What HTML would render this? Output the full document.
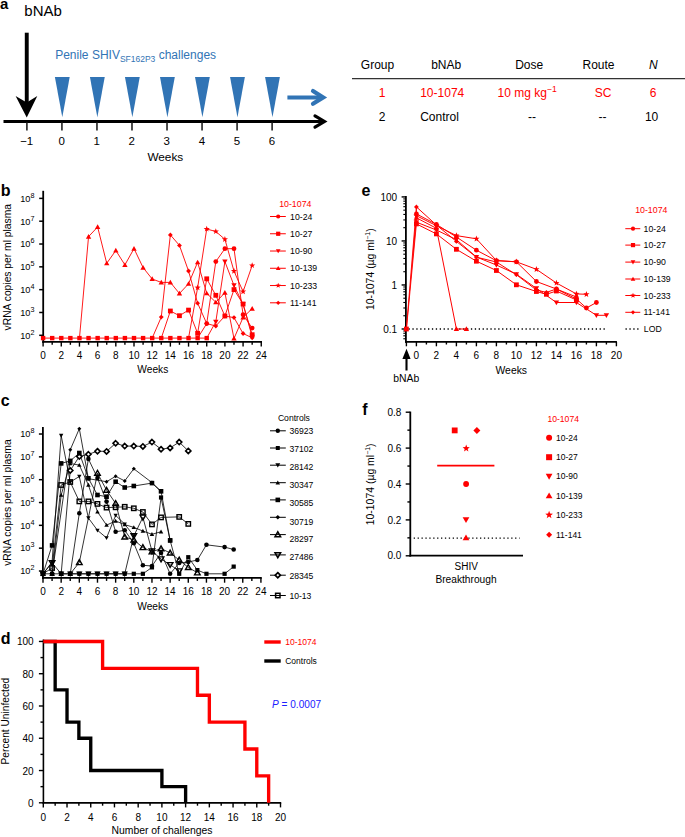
<!DOCTYPE html>
<html><head><meta charset="utf-8"><style>
html,body{margin:0;padding:0;background:#fff;}
svg{display:block;}
text{font-family:"Liberation Sans",sans-serif;}
</style></head><body>
<svg width="685" height="837" viewBox="0 0 685 837">
<rect width="685" height="837" fill="#fff"/>
<text x="0" y="9.3" font-size="15" text-anchor="start" fill="#000" font-weight="bold">a</text>
<text x="24.3" y="15.8" font-size="15" text-anchor="start" fill="#000">bNAb</text>
<rect x="24.8" y="32.7" width="3.9" height="72" fill="#000"/>
<polygon points="15.6,96 26.75,117.6 37.3,96 26.75,102.5" fill="#000" stroke="none" stroke-width="0"/>
<text y="58.7" font-size="12" fill="#3174b5"><tspan x="55.2">Penile SHIV</tspan><tspan font-size="8.5" dy="3.4">SF162P3</tspan><tspan font-size="12" dy="-3.4"> challenges</tspan></text>
<polygon points="54.9,77.1 69.7,77.1 62.3,117.3" fill="#3174b5" stroke="none" stroke-width="0"/>
<polygon points="89.93,77.1 104.73,77.1 97.33,117.3" fill="#3174b5" stroke="none" stroke-width="0"/>
<polygon points="124.96,77.1 139.76,77.1 132.36,117.3" fill="#3174b5" stroke="none" stroke-width="0"/>
<polygon points="159.99,77.1 174.79,77.1 167.39,117.3" fill="#3174b5" stroke="none" stroke-width="0"/>
<polygon points="195.02,77.1 209.82,77.1 202.42,117.3" fill="#3174b5" stroke="none" stroke-width="0"/>
<polygon points="230.05,77.1 244.85,77.1 237.45,117.3" fill="#3174b5" stroke="none" stroke-width="0"/>
<polygon points="265.08,77.1 279.88,77.1 272.48,117.3" fill="#3174b5" stroke="none" stroke-width="0"/>
<line x1="287.4" y1="97.4" x2="321" y2="97.4" stroke="#3174b5" stroke-width="4"/>
<polyline points="313,91 323.2,97.4 313,103.8" fill="none" stroke="#3174b5" stroke-width="4.2" stroke-linecap="round" stroke-linejoin="miter"/>
<line x1="3.5" y1="121.5" x2="323" y2="121.5" stroke="#000" stroke-width="3"/>
<polyline points="315,115.9 324.4,121.5 315,127.1" fill="none" stroke="#000" stroke-width="3.2" stroke-linecap="round" stroke-linejoin="miter"/>
<line x1="26.9" y1="122.5" x2="26.9" y2="130.5" stroke="#222" stroke-width="1.6"/>
<text x="26.7" y="144.6" font-size="11.5" text-anchor="middle" fill="#000">−1</text>
<line x1="61.93" y1="122.5" x2="61.93" y2="130.5" stroke="#222" stroke-width="1.6"/>
<text x="61.73" y="144.6" font-size="11.5" text-anchor="middle" fill="#000">0</text>
<line x1="96.96" y1="122.5" x2="96.96" y2="130.5" stroke="#222" stroke-width="1.6"/>
<text x="96.76" y="144.6" font-size="11.5" text-anchor="middle" fill="#000">1</text>
<line x1="131.99" y1="122.5" x2="131.99" y2="130.5" stroke="#222" stroke-width="1.6"/>
<text x="131.79" y="144.6" font-size="11.5" text-anchor="middle" fill="#000">2</text>
<line x1="167.02" y1="122.5" x2="167.02" y2="130.5" stroke="#222" stroke-width="1.6"/>
<text x="166.82" y="144.6" font-size="11.5" text-anchor="middle" fill="#000">3</text>
<line x1="202.05" y1="122.5" x2="202.05" y2="130.5" stroke="#222" stroke-width="1.6"/>
<text x="201.85" y="144.6" font-size="11.5" text-anchor="middle" fill="#000">4</text>
<line x1="237.08" y1="122.5" x2="237.08" y2="130.5" stroke="#222" stroke-width="1.6"/>
<text x="236.88" y="144.6" font-size="11.5" text-anchor="middle" fill="#000">5</text>
<line x1="272.11" y1="122.5" x2="272.11" y2="130.5" stroke="#222" stroke-width="1.6"/>
<text x="271.91" y="144.6" font-size="11.5" text-anchor="middle" fill="#000">6</text>
<text x="165.3" y="161" font-size="11.8" text-anchor="middle" fill="#000">Weeks</text>
<text x="377.5" y="68.6" font-size="12" text-anchor="middle" fill="#000">Group</text>
<text x="446.2" y="68.6" font-size="12" text-anchor="middle" fill="#000">bNAb</text>
<text x="529.2" y="68.6" font-size="12" text-anchor="middle" fill="#000">Dose</text>
<text x="598.5" y="68.6" font-size="12" text-anchor="middle" fill="#000">Route</text>
<text x="653.4" y="68.6" font-size="12" text-anchor="middle" fill="#000" font-style="italic">N</text>
<line x1="352" y1="78.6" x2="685" y2="78.6" stroke="#333" stroke-width="1.1"/>
<text x="382.1" y="96.8" font-size="12" text-anchor="middle" fill="#ff0000">1</text>
<text x="420.2" y="96.8" font-size="12" text-anchor="start" fill="#ff0000">10-1074</text>
<text x="497.5" y="96.8" font-size="12" fill="#ff0000">10 mg kg<tspan font-size="8.6" dy="-5.0">−1</tspan></text>
<text x="603.2" y="96.8" font-size="12" text-anchor="middle" fill="#ff0000">SC</text>
<text x="653.2" y="96.8" font-size="12" text-anchor="middle" fill="#ff0000">6</text>
<text x="382.1" y="121.2" font-size="12" text-anchor="middle" fill="#000">2</text>
<text x="420.2" y="121.2" font-size="12" text-anchor="start" fill="#000">Control</text>
<text x="531.9" y="121.2" font-size="12" text-anchor="middle" fill="#000">--</text>
<text x="602.5" y="121.2" font-size="12" text-anchor="middle" fill="#000">--</text>
<text x="651.6" y="121.2" font-size="12" text-anchor="middle" fill="#000">10</text>
<text x="0.8" y="196.3" font-size="16" text-anchor="start" fill="#000" font-weight="bold">b</text>
<line x1="43.2" y1="190.8" x2="43.2" y2="342.8" stroke="#000" stroke-width="1.8"/>
<line x1="42.3" y1="341.8" x2="262" y2="341.8" stroke="#000" stroke-width="1.8"/>
<line x1="39.2" y1="335.3" x2="43.2" y2="335.3" stroke="#000" stroke-width="1.5"/>
<text x="34.4" y="338.6" font-size="9.2" text-anchor="end" fill="#000">10<tspan font-size="7.2" dy="-4.0">2</tspan></text>
<line x1="39.2" y1="312.48" x2="43.2" y2="312.48" stroke="#000" stroke-width="1.5"/>
<text x="34.4" y="315.78" font-size="9.2" text-anchor="end" fill="#000">10<tspan font-size="7.2" dy="-4.0">3</tspan></text>
<line x1="39.2" y1="289.66" x2="43.2" y2="289.66" stroke="#000" stroke-width="1.5"/>
<text x="34.4" y="292.96" font-size="9.2" text-anchor="end" fill="#000">10<tspan font-size="7.2" dy="-4.0">4</tspan></text>
<line x1="39.2" y1="266.84" x2="43.2" y2="266.84" stroke="#000" stroke-width="1.5"/>
<text x="34.4" y="270.14" font-size="9.2" text-anchor="end" fill="#000">10<tspan font-size="7.2" dy="-4.0">5</tspan></text>
<line x1="39.2" y1="244.02" x2="43.2" y2="244.02" stroke="#000" stroke-width="1.5"/>
<text x="34.4" y="247.32" font-size="9.2" text-anchor="end" fill="#000">10<tspan font-size="7.2" dy="-4.0">6</tspan></text>
<line x1="39.2" y1="221.2" x2="43.2" y2="221.2" stroke="#000" stroke-width="1.5"/>
<text x="34.4" y="224.5" font-size="9.2" text-anchor="end" fill="#000">10<tspan font-size="7.2" dy="-4.0">7</tspan></text>
<line x1="39.2" y1="198.38" x2="43.2" y2="198.38" stroke="#000" stroke-width="1.5"/>
<text x="34.4" y="201.68" font-size="9.2" text-anchor="end" fill="#000">10<tspan font-size="7.2" dy="-4.0">8</tspan></text>
<line x1="43.1" y1="341.8" x2="43.1" y2="346.6" stroke="#000" stroke-width="1.4"/>
<text x="43.1" y="358.5" font-size="10" text-anchor="middle" fill="#000">0</text>
<line x1="52.19" y1="341.8" x2="52.19" y2="344.8" stroke="#000" stroke-width="1.4"/>
<line x1="61.28" y1="341.8" x2="61.28" y2="346.6" stroke="#000" stroke-width="1.4"/>
<text x="61.28" y="358.5" font-size="10" text-anchor="middle" fill="#000">2</text>
<line x1="70.37" y1="341.8" x2="70.37" y2="344.8" stroke="#000" stroke-width="1.4"/>
<line x1="79.46" y1="341.8" x2="79.46" y2="346.6" stroke="#000" stroke-width="1.4"/>
<text x="79.46" y="358.5" font-size="10" text-anchor="middle" fill="#000">4</text>
<line x1="88.55" y1="341.8" x2="88.55" y2="344.8" stroke="#000" stroke-width="1.4"/>
<line x1="97.64" y1="341.8" x2="97.64" y2="346.6" stroke="#000" stroke-width="1.4"/>
<text x="97.64" y="358.5" font-size="10" text-anchor="middle" fill="#000">6</text>
<line x1="106.73" y1="341.8" x2="106.73" y2="344.8" stroke="#000" stroke-width="1.4"/>
<line x1="115.82" y1="341.8" x2="115.82" y2="346.6" stroke="#000" stroke-width="1.4"/>
<text x="115.82" y="358.5" font-size="10" text-anchor="middle" fill="#000">8</text>
<line x1="124.91" y1="341.8" x2="124.91" y2="344.8" stroke="#000" stroke-width="1.4"/>
<line x1="134" y1="341.8" x2="134" y2="346.6" stroke="#000" stroke-width="1.4"/>
<text x="134" y="358.5" font-size="10" text-anchor="middle" fill="#000">10</text>
<line x1="143.09" y1="341.8" x2="143.09" y2="344.8" stroke="#000" stroke-width="1.4"/>
<line x1="152.18" y1="341.8" x2="152.18" y2="346.6" stroke="#000" stroke-width="1.4"/>
<text x="152.18" y="358.5" font-size="10" text-anchor="middle" fill="#000">12</text>
<line x1="161.27" y1="341.8" x2="161.27" y2="344.8" stroke="#000" stroke-width="1.4"/>
<line x1="170.36" y1="341.8" x2="170.36" y2="346.6" stroke="#000" stroke-width="1.4"/>
<text x="170.36" y="358.5" font-size="10" text-anchor="middle" fill="#000">14</text>
<line x1="179.45" y1="341.8" x2="179.45" y2="344.8" stroke="#000" stroke-width="1.4"/>
<line x1="188.54" y1="341.8" x2="188.54" y2="346.6" stroke="#000" stroke-width="1.4"/>
<text x="188.54" y="358.5" font-size="10" text-anchor="middle" fill="#000">16</text>
<line x1="197.63" y1="341.8" x2="197.63" y2="344.8" stroke="#000" stroke-width="1.4"/>
<line x1="206.72" y1="341.8" x2="206.72" y2="346.6" stroke="#000" stroke-width="1.4"/>
<text x="206.72" y="358.5" font-size="10" text-anchor="middle" fill="#000">18</text>
<line x1="215.81" y1="341.8" x2="215.81" y2="344.8" stroke="#000" stroke-width="1.4"/>
<line x1="224.9" y1="341.8" x2="224.9" y2="346.6" stroke="#000" stroke-width="1.4"/>
<text x="224.9" y="358.5" font-size="10" text-anchor="middle" fill="#000">20</text>
<line x1="233.99" y1="341.8" x2="233.99" y2="344.8" stroke="#000" stroke-width="1.4"/>
<line x1="243.08" y1="341.8" x2="243.08" y2="346.6" stroke="#000" stroke-width="1.4"/>
<text x="243.08" y="358.5" font-size="10" text-anchor="middle" fill="#000">22</text>
<line x1="252.17" y1="341.8" x2="252.17" y2="344.8" stroke="#000" stroke-width="1.4"/>
<line x1="261.26" y1="341.8" x2="261.26" y2="346.6" stroke="#000" stroke-width="1.4"/>
<text x="261.26" y="358.5" font-size="10" text-anchor="middle" fill="#000">24</text>
<text x="152.85" y="373" font-size="10.2" text-anchor="middle" fill="#000">Weeks</text>
<text transform="translate(11.1,267.2) rotate(-90)" font-size="10.3" text-anchor="middle" fill="#000">vRNA copies per ml plasma</text>
<g>
<line x1="43.1" y1="338.1" x2="206.72" y2="338.1" stroke="#ff0000" stroke-width="0.9"/>
<polyline points="79.46,338.1 88.55,236.6 97.64,227 106.73,263.3 115.82,250.5 124.91,264.9 134,248.6 143.09,267.6 152.18,279 161.27,282.4 170.36,282.4 179.45,293.5 188.54,283.8 197.63,262.3 206.72,293.3 215.81,302.3 224.9,292.7 233.99,338.5 243.08,317.4 252.17,308.6" fill="none" stroke="#ff0000" stroke-width="0.9" stroke-linejoin="round"/>
<polyline points="152.18,338.1 161.27,317.1 170.36,234.9 179.45,245.4 188.54,271 197.63,303.2 206.72,323.6 215.81,326 224.9,316 233.99,317.6 243.08,333.5 252.17,337.8" fill="none" stroke="#ff0000" stroke-width="0.9" stroke-linejoin="round"/>
<polyline points="161.27,338.1 170.36,311 179.45,315.7 188.54,310.1 197.63,333.3 206.72,278.8 215.81,295.3 224.9,316 233.99,289.6 243.08,304 252.17,334.7" fill="none" stroke="#ff0000" stroke-width="0.9" stroke-linejoin="round"/>
<polyline points="197.63,338.1 206.72,323.6 215.81,261.6 224.9,248.7 233.99,248.7 243.08,314.7 252.17,328.1" fill="none" stroke="#ff0000" stroke-width="0.9" stroke-linejoin="round"/>
<polyline points="206.72,338.1 215.81,321.8 224.9,261.6 233.99,285.4 243.08,304.3 252.17,336.7" fill="none" stroke="#ff0000" stroke-width="0.9" stroke-linejoin="round"/>
<polyline points="188.54,338.1 197.63,287.7 206.72,229 215.81,231.5 224.9,239.3 233.99,271.1 243.08,291.6 252.17,265.5" fill="none" stroke="#ff0000" stroke-width="0.9" stroke-linejoin="round"/>
<polygon points="85.86,238.64 91.24,238.64 88.55,233.96" fill="#ff0000" stroke="none" stroke-width="0"/>
<polygon points="94.95,229.04 100.33,229.04 97.64,224.36" fill="#ff0000" stroke="none" stroke-width="0"/>
<polygon points="104.04,265.34 109.42,265.34 106.73,260.66" fill="#ff0000" stroke="none" stroke-width="0"/>
<polygon points="113.13,252.54 118.51,252.54 115.82,247.86" fill="#ff0000" stroke="none" stroke-width="0"/>
<polygon points="122.22,266.94 127.6,266.94 124.91,262.26" fill="#ff0000" stroke="none" stroke-width="0"/>
<polygon points="131.31,250.64 136.69,250.64 134,245.96" fill="#ff0000" stroke="none" stroke-width="0"/>
<polygon points="140.4,269.64 145.78,269.64 143.09,264.96" fill="#ff0000" stroke="none" stroke-width="0"/>
<polygon points="149.49,281.04 154.87,281.04 152.18,276.36" fill="#ff0000" stroke="none" stroke-width="0"/>
<polygon points="158.58,284.44 163.96,284.44 161.27,279.76" fill="#ff0000" stroke="none" stroke-width="0"/>
<polygon points="167.67,284.44 173.05,284.44 170.36,279.76" fill="#ff0000" stroke="none" stroke-width="0"/>
<polygon points="176.76,295.54 182.14,295.54 179.45,290.86" fill="#ff0000" stroke="none" stroke-width="0"/>
<polygon points="185.85,285.84 191.23,285.84 188.54,281.16" fill="#ff0000" stroke="none" stroke-width="0"/>
<polygon points="194.94,264.34 200.32,264.34 197.63,259.66" fill="#ff0000" stroke="none" stroke-width="0"/>
<polygon points="204.03,295.34 209.41,295.34 206.72,290.66" fill="#ff0000" stroke="none" stroke-width="0"/>
<polygon points="213.12,304.34 218.5,304.34 215.81,299.66" fill="#ff0000" stroke="none" stroke-width="0"/>
<polygon points="222.21,294.74 227.59,294.74 224.9,290.06" fill="#ff0000" stroke="none" stroke-width="0"/>
<polygon points="231.3,340.54 236.68,340.54 233.99,335.86" fill="#ff0000" stroke="none" stroke-width="0"/>
<polygon points="240.39,319.44 245.77,319.44 243.08,314.76" fill="#ff0000" stroke="none" stroke-width="0"/>
<polygon points="249.48,310.64 254.86,310.64 252.17,305.96" fill="#ff0000" stroke="none" stroke-width="0"/>
<polygon points="161.27,314.7 163.67,317.1 161.27,319.5 158.87,317.1" fill="#ff0000" stroke="none" stroke-width="0"/>
<polygon points="170.36,232.5 172.76,234.9 170.36,237.3 167.96,234.9" fill="#ff0000" stroke="none" stroke-width="0"/>
<polygon points="179.45,243 181.85,245.4 179.45,247.8 177.05,245.4" fill="#ff0000" stroke="none" stroke-width="0"/>
<polygon points="188.54,268.6 190.94,271 188.54,273.4 186.14,271" fill="#ff0000" stroke="none" stroke-width="0"/>
<polygon points="197.63,300.8 200.03,303.2 197.63,305.6 195.23,303.2" fill="#ff0000" stroke="none" stroke-width="0"/>
<polygon points="206.72,321.2 209.12,323.6 206.72,326 204.32,323.6" fill="#ff0000" stroke="none" stroke-width="0"/>
<polygon points="215.81,323.6 218.21,326 215.81,328.4 213.41,326" fill="#ff0000" stroke="none" stroke-width="0"/>
<polygon points="224.9,313.6 227.3,316 224.9,318.4 222.5,316" fill="#ff0000" stroke="none" stroke-width="0"/>
<polygon points="233.99,315.2 236.39,317.6 233.99,320 231.59,317.6" fill="#ff0000" stroke="none" stroke-width="0"/>
<polygon points="243.08,331.1 245.48,333.5 243.08,335.9 240.68,333.5" fill="#ff0000" stroke="none" stroke-width="0"/>
<polygon points="252.17,335.4 254.57,337.8 252.17,340.2 249.77,337.8" fill="#ff0000" stroke="none" stroke-width="0"/>
<rect x="167.96" y="308.6" width="4.8" height="4.8" fill="#ff0000" stroke="none" stroke-width="0"/>
<rect x="177.05" y="313.3" width="4.8" height="4.8" fill="#ff0000" stroke="none" stroke-width="0"/>
<rect x="186.14" y="307.7" width="4.8" height="4.8" fill="#ff0000" stroke="none" stroke-width="0"/>
<rect x="195.23" y="330.9" width="4.8" height="4.8" fill="#ff0000" stroke="none" stroke-width="0"/>
<rect x="204.32" y="276.4" width="4.8" height="4.8" fill="#ff0000" stroke="none" stroke-width="0"/>
<rect x="213.41" y="292.9" width="4.8" height="4.8" fill="#ff0000" stroke="none" stroke-width="0"/>
<rect x="222.5" y="313.6" width="4.8" height="4.8" fill="#ff0000" stroke="none" stroke-width="0"/>
<rect x="231.59" y="287.2" width="4.8" height="4.8" fill="#ff0000" stroke="none" stroke-width="0"/>
<rect x="240.68" y="301.6" width="4.8" height="4.8" fill="#ff0000" stroke="none" stroke-width="0"/>
<rect x="249.77" y="332.3" width="4.8" height="4.8" fill="#ff0000" stroke="none" stroke-width="0"/>
<circle cx="206.72" cy="323.6" r="2.4" fill="#ff0000" stroke="none" stroke-width="0"/>
<circle cx="215.81" cy="261.6" r="2.4" fill="#ff0000" stroke="none" stroke-width="0"/>
<circle cx="224.9" cy="248.7" r="2.4" fill="#ff0000" stroke="none" stroke-width="0"/>
<circle cx="233.99" cy="248.7" r="2.4" fill="#ff0000" stroke="none" stroke-width="0"/>
<circle cx="243.08" cy="314.7" r="2.4" fill="#ff0000" stroke="none" stroke-width="0"/>
<circle cx="252.17" cy="328.1" r="2.4" fill="#ff0000" stroke="none" stroke-width="0"/>
<polygon points="213.12,319.76 218.5,319.76 215.81,324.44" fill="#ff0000" stroke="none" stroke-width="0"/>
<polygon points="222.21,259.56 227.59,259.56 224.9,264.24" fill="#ff0000" stroke="none" stroke-width="0"/>
<polygon points="231.3,283.36 236.68,283.36 233.99,288.04" fill="#ff0000" stroke="none" stroke-width="0"/>
<polygon points="240.39,302.26 245.77,302.26 243.08,306.94" fill="#ff0000" stroke="none" stroke-width="0"/>
<polygon points="249.48,334.66 254.86,334.66 252.17,339.34" fill="#ff0000" stroke="none" stroke-width="0"/>
<polygon points="197.63,284.46 198.43,286.6 200.71,286.7 198.92,288.12 199.53,290.32 197.63,289.06 195.73,290.32 196.34,288.12 194.55,286.7 196.83,286.6" fill="#ff0000" stroke="none" stroke-width="0"/>
<polygon points="206.72,225.76 207.52,227.9 209.8,228 208.01,229.42 208.62,231.62 206.72,230.36 204.82,231.62 205.43,229.42 203.64,228 205.92,227.9" fill="#ff0000" stroke="none" stroke-width="0"/>
<polygon points="215.81,228.26 216.61,230.4 218.89,230.5 217.1,231.92 217.71,234.12 215.81,232.86 213.91,234.12 214.52,231.92 212.73,230.5 215.01,230.4" fill="#ff0000" stroke="none" stroke-width="0"/>
<polygon points="224.9,236.06 225.7,238.2 227.98,238.3 226.19,239.72 226.8,241.92 224.9,240.66 223,241.92 223.61,239.72 221.82,238.3 224.1,238.2" fill="#ff0000" stroke="none" stroke-width="0"/>
<polygon points="233.99,267.86 234.79,270 237.07,270.1 235.28,271.52 235.89,273.72 233.99,272.46 232.09,273.72 232.7,271.52 230.91,270.1 233.19,270" fill="#ff0000" stroke="none" stroke-width="0"/>
<polygon points="243.08,288.36 243.88,290.5 246.16,290.6 244.37,292.02 244.98,294.22 243.08,292.96 241.18,294.22 241.79,292.02 240,290.6 242.28,290.5" fill="#ff0000" stroke="none" stroke-width="0"/>
<polygon points="252.17,262.26 252.97,264.4 255.25,264.5 253.46,265.92 254.07,268.12 252.17,266.86 250.27,268.12 250.88,265.92 249.09,264.5 251.37,264.4" fill="#ff0000" stroke="none" stroke-width="0"/>
<rect x="40.9" y="335.9" width="4.4" height="4.4" fill="#ff0000" stroke="none" stroke-width="0"/>
<rect x="49.99" y="335.9" width="4.4" height="4.4" fill="#ff0000" stroke="none" stroke-width="0"/>
<rect x="59.08" y="335.9" width="4.4" height="4.4" fill="#ff0000" stroke="none" stroke-width="0"/>
<rect x="68.17" y="335.9" width="4.4" height="4.4" fill="#ff0000" stroke="none" stroke-width="0"/>
<rect x="77.26" y="335.9" width="4.4" height="4.4" fill="#ff0000" stroke="none" stroke-width="0"/>
<rect x="86.35" y="335.9" width="4.4" height="4.4" fill="#ff0000" stroke="none" stroke-width="0"/>
<rect x="95.44" y="335.9" width="4.4" height="4.4" fill="#ff0000" stroke="none" stroke-width="0"/>
<rect x="104.53" y="335.9" width="4.4" height="4.4" fill="#ff0000" stroke="none" stroke-width="0"/>
<rect x="113.62" y="335.9" width="4.4" height="4.4" fill="#ff0000" stroke="none" stroke-width="0"/>
<rect x="122.71" y="335.9" width="4.4" height="4.4" fill="#ff0000" stroke="none" stroke-width="0"/>
<rect x="131.8" y="335.9" width="4.4" height="4.4" fill="#ff0000" stroke="none" stroke-width="0"/>
<rect x="140.89" y="335.9" width="4.4" height="4.4" fill="#ff0000" stroke="none" stroke-width="0"/>
<rect x="149.98" y="335.9" width="4.4" height="4.4" fill="#ff0000" stroke="none" stroke-width="0"/>
<rect x="159.07" y="335.9" width="4.4" height="4.4" fill="#ff0000" stroke="none" stroke-width="0"/>
<rect x="168.16" y="335.9" width="4.4" height="4.4" fill="#ff0000" stroke="none" stroke-width="0"/>
<rect x="177.25" y="335.9" width="4.4" height="4.4" fill="#ff0000" stroke="none" stroke-width="0"/>
<rect x="186.34" y="335.9" width="4.4" height="4.4" fill="#ff0000" stroke="none" stroke-width="0"/>
<rect x="195.43" y="335.9" width="4.4" height="4.4" fill="#ff0000" stroke="none" stroke-width="0"/>
<rect x="204.52" y="335.9" width="4.4" height="4.4" fill="#ff0000" stroke="none" stroke-width="0"/>
</g>
<text x="295.3" y="206.9" font-size="8.8" text-anchor="middle" fill="#ff0000">10-1074</text>
<line x1="270" y1="216.5" x2="285.8" y2="216.5" stroke="#ff0000" stroke-width="1"/>
<circle cx="278.2" cy="216.5" r="2.1" fill="#ff0000" stroke="none" stroke-width="0"/>
<text x="290.1" y="219.5" font-size="8.7" text-anchor="start" fill="#000">10-24</text>
<line x1="270" y1="233.76" x2="285.8" y2="233.76" stroke="#ff0000" stroke-width="1"/>
<rect x="276.1" y="231.66" width="4.2" height="4.2" fill="#ff0000" stroke="none" stroke-width="0"/>
<text x="290.1" y="236.76" font-size="8.7" text-anchor="start" fill="#000">10-27</text>
<line x1="270" y1="251.02" x2="285.8" y2="251.02" stroke="#ff0000" stroke-width="1"/>
<polygon points="275.85,249.24 280.55,249.24 278.2,253.33" fill="#ff0000" stroke="none" stroke-width="0"/>
<text x="290.1" y="254.02" font-size="8.7" text-anchor="start" fill="#000">10-90</text>
<line x1="270" y1="268.28" x2="285.8" y2="268.28" stroke="#ff0000" stroke-width="1"/>
<polygon points="275.85,270.06 280.55,270.06 278.2,265.97" fill="#ff0000" stroke="none" stroke-width="0"/>
<text x="290.1" y="271.28" font-size="8.7" text-anchor="start" fill="#000">10-139</text>
<line x1="270" y1="285.54" x2="285.8" y2="285.54" stroke="#ff0000" stroke-width="1"/>
<polygon points="278.2,282.71 278.9,284.58 280.9,284.66 279.33,285.91 279.87,287.83 278.2,286.73 276.53,287.83 277.07,285.91 275.5,284.66 277.5,284.58" fill="#ff0000" stroke="none" stroke-width="0"/>
<text x="290.1" y="288.54" font-size="8.7" text-anchor="start" fill="#000">10-233</text>
<line x1="270" y1="302.8" x2="285.8" y2="302.8" stroke="#ff0000" stroke-width="1"/>
<polygon points="278.2,300.7 280.3,302.8 278.2,304.9 276.1,302.8" fill="#ff0000" stroke="none" stroke-width="0"/>
<text x="290.1" y="305.8" font-size="8.7" text-anchor="start" fill="#000">11-141</text>
<text x="0.8" y="406.4" font-size="16" text-anchor="start" fill="#000" font-weight="bold">c</text>
<line x1="42.9" y1="427.1" x2="42.9" y2="578.9" stroke="#000" stroke-width="1.8"/>
<line x1="42" y1="577.9" x2="261.8" y2="577.9" stroke="#000" stroke-width="1.8"/>
<line x1="38.9" y1="571" x2="42.9" y2="571" stroke="#000" stroke-width="1.5"/>
<text x="34.4" y="574.3" font-size="9.2" text-anchor="end" fill="#000">10<tspan font-size="7.2" dy="-4.0">2</tspan></text>
<line x1="38.9" y1="548.17" x2="42.9" y2="548.17" stroke="#000" stroke-width="1.5"/>
<text x="34.4" y="551.47" font-size="9.2" text-anchor="end" fill="#000">10<tspan font-size="7.2" dy="-4.0">3</tspan></text>
<line x1="38.9" y1="525.34" x2="42.9" y2="525.34" stroke="#000" stroke-width="1.5"/>
<text x="34.4" y="528.64" font-size="9.2" text-anchor="end" fill="#000">10<tspan font-size="7.2" dy="-4.0">4</tspan></text>
<line x1="38.9" y1="502.51" x2="42.9" y2="502.51" stroke="#000" stroke-width="1.5"/>
<text x="34.4" y="505.81" font-size="9.2" text-anchor="end" fill="#000">10<tspan font-size="7.2" dy="-4.0">5</tspan></text>
<line x1="38.9" y1="479.68" x2="42.9" y2="479.68" stroke="#000" stroke-width="1.5"/>
<text x="34.4" y="482.98" font-size="9.2" text-anchor="end" fill="#000">10<tspan font-size="7.2" dy="-4.0">6</tspan></text>
<line x1="38.9" y1="456.85" x2="42.9" y2="456.85" stroke="#000" stroke-width="1.5"/>
<text x="34.4" y="460.15" font-size="9.2" text-anchor="end" fill="#000">10<tspan font-size="7.2" dy="-4.0">7</tspan></text>
<line x1="38.9" y1="434.02" x2="42.9" y2="434.02" stroke="#000" stroke-width="1.5"/>
<text x="34.4" y="437.32" font-size="9.2" text-anchor="end" fill="#000">10<tspan font-size="7.2" dy="-4.0">8</tspan></text>
<line x1="43" y1="577.9" x2="43" y2="582.7" stroke="#000" stroke-width="1.4"/>
<text x="43" y="595.1" font-size="10" text-anchor="middle" fill="#000">0</text>
<line x1="52.08" y1="577.9" x2="52.08" y2="580.9" stroke="#000" stroke-width="1.4"/>
<line x1="61.16" y1="577.9" x2="61.16" y2="582.7" stroke="#000" stroke-width="1.4"/>
<text x="61.16" y="595.1" font-size="10" text-anchor="middle" fill="#000">2</text>
<line x1="70.24" y1="577.9" x2="70.24" y2="580.9" stroke="#000" stroke-width="1.4"/>
<line x1="79.32" y1="577.9" x2="79.32" y2="582.7" stroke="#000" stroke-width="1.4"/>
<text x="79.32" y="595.1" font-size="10" text-anchor="middle" fill="#000">4</text>
<line x1="88.4" y1="577.9" x2="88.4" y2="580.9" stroke="#000" stroke-width="1.4"/>
<line x1="97.48" y1="577.9" x2="97.48" y2="582.7" stroke="#000" stroke-width="1.4"/>
<text x="97.48" y="595.1" font-size="10" text-anchor="middle" fill="#000">6</text>
<line x1="106.56" y1="577.9" x2="106.56" y2="580.9" stroke="#000" stroke-width="1.4"/>
<line x1="115.64" y1="577.9" x2="115.64" y2="582.7" stroke="#000" stroke-width="1.4"/>
<text x="115.64" y="595.1" font-size="10" text-anchor="middle" fill="#000">8</text>
<line x1="124.72" y1="577.9" x2="124.72" y2="580.9" stroke="#000" stroke-width="1.4"/>
<line x1="133.8" y1="577.9" x2="133.8" y2="582.7" stroke="#000" stroke-width="1.4"/>
<text x="133.8" y="595.1" font-size="10" text-anchor="middle" fill="#000">10</text>
<line x1="142.88" y1="577.9" x2="142.88" y2="580.9" stroke="#000" stroke-width="1.4"/>
<line x1="151.96" y1="577.9" x2="151.96" y2="582.7" stroke="#000" stroke-width="1.4"/>
<text x="151.96" y="595.1" font-size="10" text-anchor="middle" fill="#000">12</text>
<line x1="161.04" y1="577.9" x2="161.04" y2="580.9" stroke="#000" stroke-width="1.4"/>
<line x1="170.12" y1="577.9" x2="170.12" y2="582.7" stroke="#000" stroke-width="1.4"/>
<text x="170.12" y="595.1" font-size="10" text-anchor="middle" fill="#000">14</text>
<line x1="179.2" y1="577.9" x2="179.2" y2="580.9" stroke="#000" stroke-width="1.4"/>
<line x1="188.28" y1="577.9" x2="188.28" y2="582.7" stroke="#000" stroke-width="1.4"/>
<text x="188.28" y="595.1" font-size="10" text-anchor="middle" fill="#000">16</text>
<line x1="197.36" y1="577.9" x2="197.36" y2="580.9" stroke="#000" stroke-width="1.4"/>
<line x1="206.44" y1="577.9" x2="206.44" y2="582.7" stroke="#000" stroke-width="1.4"/>
<text x="206.44" y="595.1" font-size="10" text-anchor="middle" fill="#000">18</text>
<line x1="215.52" y1="577.9" x2="215.52" y2="580.9" stroke="#000" stroke-width="1.4"/>
<line x1="224.6" y1="577.9" x2="224.6" y2="582.7" stroke="#000" stroke-width="1.4"/>
<text x="224.6" y="595.1" font-size="10" text-anchor="middle" fill="#000">20</text>
<line x1="233.68" y1="577.9" x2="233.68" y2="580.9" stroke="#000" stroke-width="1.4"/>
<line x1="242.76" y1="577.9" x2="242.76" y2="582.7" stroke="#000" stroke-width="1.4"/>
<text x="242.76" y="595.1" font-size="10" text-anchor="middle" fill="#000">22</text>
<line x1="251.84" y1="577.9" x2="251.84" y2="580.9" stroke="#000" stroke-width="1.4"/>
<line x1="260.92" y1="577.9" x2="260.92" y2="582.7" stroke="#000" stroke-width="1.4"/>
<text x="260.92" y="595.1" font-size="10" text-anchor="middle" fill="#000">24</text>
<text x="152.7" y="609.9" font-size="10.2" text-anchor="middle" fill="#000">Weeks</text>
<text transform="translate(11.1,502.6) rotate(-90)" font-size="10.3" text-anchor="middle" fill="#000">vRNA copies per ml plasma</text>
<line x1="43" y1="573.8" x2="142.88" y2="573.8" stroke="#000" stroke-width="0.8"/>
<polyline points="61.16,573.8 70.24,470.5 79.32,456.5 88.4,454.3 97.48,451.2 106.56,451.4 115.64,443.3 124.72,446.1 133.8,446.1 142.88,446.4 151.96,442.1 161.04,449.2 170.12,447.9 179.2,442.1 188.28,450.9" fill="none" stroke="#000" stroke-width="0.8" stroke-linejoin="round"/>
<polyline points="70.24,573.8 79.32,513.2 88.4,458.9 97.48,478 106.56,501.6 115.64,531.8 124.72,530.3 133.8,543.2 142.88,565.3 151.96,566 161.04,553 170.12,573.8 179.2,563 188.28,562 197.36,560 206.44,544.8 224.6,547.1 233.68,549.5" fill="none" stroke="#000" stroke-width="0.8" stroke-linejoin="round"/>
<polyline points="43,573.8 52.08,545.4 61.16,463.4 70.24,460.9 79.32,453 88.4,478.3 97.48,495 106.56,496.7 115.64,481.7 124.72,487.5 133.8,486 151.96,483.1 161.04,491.3 170.12,540.4" fill="none" stroke="#000" stroke-width="0.8" stroke-linejoin="round"/>
<polyline points="142.88,573.8 151.96,567.4 161.04,497.5 170.12,540.4 179.2,573.8 188.28,557.2 197.36,570.1 206.44,573.8 224.6,573.8 233.68,566.6" fill="none" stroke="#000" stroke-width="0.8" stroke-linejoin="round"/>
<polyline points="43,573.8 52.08,562 61.16,435.5 70.24,482 79.32,476.5 88.4,518 97.48,530.3 106.56,537.9 115.64,515.4 124.72,524.1 133.8,535.9" fill="none" stroke="#000" stroke-width="0.8" stroke-linejoin="round"/>
<polyline points="52.08,573.8 61.16,495.1 70.24,463.5 79.32,465.1 88.4,485 97.48,511.9 106.56,525.1 115.64,521 124.72,524.6 133.8,527.4 142.88,531 151.96,534.3 161.04,531.7" fill="none" stroke="#000" stroke-width="0.8" stroke-linejoin="round"/>
<polyline points="52.08,573.8 70.24,449.8 79.32,428.7 88.4,478.7 106.56,481.7 115.64,476.3 124.72,480.9 133.8,468.8 151.96,482.6 161.04,491.5" fill="none" stroke="#000" stroke-width="0.8" stroke-linejoin="round"/>
<polyline points="70.24,573.8 79.32,562.5 97.48,473.2 106.56,490.1 115.64,503.4 124.72,536.9 133.8,540 142.88,547.5 151.96,551.8 161.04,548.6 170.12,552.9 179.2,560 188.28,567.4 197.36,572.7" fill="none" stroke="#000" stroke-width="0.8" stroke-linejoin="round"/>
<polyline points="43,573.8 52.08,562.8 61.16,573.8 70.24,573.8 79.32,573.8 88.4,573.8 97.48,573.8 106.56,573.8 115.64,573.8 124.72,573.8 133.8,535.9 142.88,517.3 151.96,551 161.04,559 170.12,564.7 179.2,571" fill="none" stroke="#000" stroke-width="0.8" stroke-linejoin="round"/>
<polyline points="43,573.8 52.08,568 61.16,485 70.24,482 79.32,501.4 88.4,501.4 97.48,503.9 106.56,507.6 115.64,507.3 124.72,506.8 133.8,508.3 142.88,512 151.96,524.4 161.04,517.4 179.2,516.9 188.28,523.9" fill="none" stroke="#000" stroke-width="0.8" stroke-linejoin="round"/>
<polygon points="43,571.2 45.6,573.8 43,576.4 40.4,573.8" fill="#000" stroke="none" stroke-width="0"/>
<polygon points="52.08,571.2 54.68,573.8 52.08,576.4 49.48,573.8" fill="#000" stroke="none" stroke-width="0"/>
<polygon points="61.16,571.2 63.76,573.8 61.16,576.4 58.56,573.8" fill="#000" stroke="none" stroke-width="0"/>
<polygon points="70.24,467.9 72.84,470.5 70.24,473.1 67.64,470.5" fill="#fff" stroke="#000" stroke-width="1.6099999999999999"/>
<polygon points="79.32,453.9 81.92,456.5 79.32,459.1 76.72,456.5" fill="#fff" stroke="#000" stroke-width="1.6099999999999999"/>
<polygon points="88.4,451.7 91,454.3 88.4,456.9 85.8,454.3" fill="#fff" stroke="#000" stroke-width="1.6099999999999999"/>
<polygon points="97.48,448.6 100.08,451.2 97.48,453.8 94.88,451.2" fill="#fff" stroke="#000" stroke-width="1.6099999999999999"/>
<polygon points="106.56,448.8 109.16,451.4 106.56,454 103.96,451.4" fill="#fff" stroke="#000" stroke-width="1.6099999999999999"/>
<polygon points="115.64,440.7 118.24,443.3 115.64,445.9 113.04,443.3" fill="#fff" stroke="#000" stroke-width="1.6099999999999999"/>
<polygon points="124.72,443.5 127.32,446.1 124.72,448.7 122.12,446.1" fill="#fff" stroke="#000" stroke-width="1.6099999999999999"/>
<polygon points="133.8,443.5 136.4,446.1 133.8,448.7 131.2,446.1" fill="#fff" stroke="#000" stroke-width="1.6099999999999999"/>
<polygon points="142.88,443.8 145.48,446.4 142.88,449 140.28,446.4" fill="#fff" stroke="#000" stroke-width="1.6099999999999999"/>
<polygon points="151.96,439.5 154.56,442.1 151.96,444.7 149.36,442.1" fill="#fff" stroke="#000" stroke-width="1.6099999999999999"/>
<polygon points="161.04,446.6 163.64,449.2 161.04,451.8 158.44,449.2" fill="#fff" stroke="#000" stroke-width="1.6099999999999999"/>
<polygon points="170.12,445.3 172.72,447.9 170.12,450.5 167.52,447.9" fill="#fff" stroke="#000" stroke-width="1.6099999999999999"/>
<polygon points="179.2,439.5 181.8,442.1 179.2,444.7 176.6,442.1" fill="#fff" stroke="#000" stroke-width="1.6099999999999999"/>
<polygon points="188.28,448.3 190.88,450.9 188.28,453.5 185.68,450.9" fill="#fff" stroke="#000" stroke-width="1.6099999999999999"/>
<circle cx="43" cy="573.8" r="2.3" fill="#000" stroke="none" stroke-width="0"/>
<circle cx="52.08" cy="573.8" r="2.3" fill="#000" stroke="none" stroke-width="0"/>
<circle cx="61.16" cy="573.8" r="2.3" fill="#000" stroke="none" stroke-width="0"/>
<circle cx="70.24" cy="573.8" r="2.3" fill="#000" stroke="none" stroke-width="0"/>
<circle cx="79.32" cy="513.2" r="2.3" fill="#000" stroke="none" stroke-width="0"/>
<circle cx="88.4" cy="458.9" r="2.3" fill="#000" stroke="none" stroke-width="0"/>
<circle cx="97.48" cy="478" r="2.3" fill="#000" stroke="none" stroke-width="0"/>
<circle cx="106.56" cy="501.6" r="2.3" fill="#000" stroke="none" stroke-width="0"/>
<circle cx="115.64" cy="531.8" r="2.3" fill="#000" stroke="none" stroke-width="0"/>
<circle cx="124.72" cy="530.3" r="2.3" fill="#000" stroke="none" stroke-width="0"/>
<circle cx="133.8" cy="543.2" r="2.3" fill="#000" stroke="none" stroke-width="0"/>
<circle cx="142.88" cy="565.3" r="2.3" fill="#000" stroke="none" stroke-width="0"/>
<circle cx="151.96" cy="566" r="2.3" fill="#000" stroke="none" stroke-width="0"/>
<circle cx="161.04" cy="553" r="2.3" fill="#000" stroke="none" stroke-width="0"/>
<circle cx="170.12" cy="573.8" r="2.3" fill="#000" stroke="none" stroke-width="0"/>
<circle cx="179.2" cy="563" r="2.3" fill="#000" stroke="none" stroke-width="0"/>
<circle cx="188.28" cy="562" r="2.3" fill="#000" stroke="none" stroke-width="0"/>
<circle cx="197.36" cy="560" r="2.3" fill="#000" stroke="none" stroke-width="0"/>
<circle cx="206.44" cy="544.8" r="2.3" fill="#000" stroke="none" stroke-width="0"/>
<circle cx="224.6" cy="547.1" r="2.3" fill="#000" stroke="none" stroke-width="0"/>
<circle cx="233.68" cy="549.5" r="2.3" fill="#000" stroke="none" stroke-width="0"/>
<rect x="40.7" y="571.5" width="4.6" height="4.6" fill="#000" stroke="none" stroke-width="0"/>
<rect x="49.78" y="543.1" width="4.6" height="4.6" fill="#000" stroke="none" stroke-width="0"/>
<rect x="58.86" y="461.1" width="4.6" height="4.6" fill="#000" stroke="none" stroke-width="0"/>
<rect x="67.94" y="458.6" width="4.6" height="4.6" fill="#000" stroke="none" stroke-width="0"/>
<rect x="77.02" y="450.7" width="4.6" height="4.6" fill="#000" stroke="none" stroke-width="0"/>
<rect x="86.1" y="476" width="4.6" height="4.6" fill="#000" stroke="none" stroke-width="0"/>
<rect x="95.18" y="492.7" width="4.6" height="4.6" fill="#000" stroke="none" stroke-width="0"/>
<rect x="104.26" y="494.4" width="4.6" height="4.6" fill="#000" stroke="none" stroke-width="0"/>
<rect x="113.34" y="479.4" width="4.6" height="4.6" fill="#000" stroke="none" stroke-width="0"/>
<rect x="122.42" y="485.2" width="4.6" height="4.6" fill="#000" stroke="none" stroke-width="0"/>
<rect x="131.5" y="483.7" width="4.6" height="4.6" fill="#000" stroke="none" stroke-width="0"/>
<rect x="149.66" y="480.8" width="4.6" height="4.6" fill="#000" stroke="none" stroke-width="0"/>
<rect x="158.74" y="489" width="4.6" height="4.6" fill="#000" stroke="none" stroke-width="0"/>
<rect x="167.82" y="538.1" width="4.6" height="4.6" fill="#000" stroke="none" stroke-width="0"/>
<rect x="40.9" y="571.7" width="4.2" height="4.2" fill="#000" stroke="none" stroke-width="0"/>
<rect x="49.98" y="571.7" width="4.2" height="4.2" fill="#000" stroke="none" stroke-width="0"/>
<rect x="59.06" y="571.7" width="4.2" height="4.2" fill="#000" stroke="none" stroke-width="0"/>
<rect x="68.14" y="571.7" width="4.2" height="4.2" fill="#000" stroke="none" stroke-width="0"/>
<rect x="77.22" y="571.7" width="4.2" height="4.2" fill="#000" stroke="none" stroke-width="0"/>
<rect x="86.3" y="571.7" width="4.2" height="4.2" fill="#000" stroke="none" stroke-width="0"/>
<rect x="95.38" y="571.7" width="4.2" height="4.2" fill="#000" stroke="none" stroke-width="0"/>
<rect x="104.46" y="571.7" width="4.2" height="4.2" fill="#000" stroke="none" stroke-width="0"/>
<rect x="113.54" y="571.7" width="4.2" height="4.2" fill="#000" stroke="none" stroke-width="0"/>
<rect x="122.62" y="571.7" width="4.2" height="4.2" fill="#000" stroke="none" stroke-width="0"/>
<rect x="131.7" y="571.7" width="4.2" height="4.2" fill="#000" stroke="none" stroke-width="0"/>
<rect x="140.78" y="571.7" width="4.2" height="4.2" fill="#000" stroke="none" stroke-width="0"/>
<rect x="149.86" y="565.3" width="4.2" height="4.2" fill="#000" stroke="none" stroke-width="0"/>
<rect x="158.94" y="495.4" width="4.2" height="4.2" fill="#000" stroke="none" stroke-width="0"/>
<rect x="168.02" y="538.3" width="4.2" height="4.2" fill="#000" stroke="none" stroke-width="0"/>
<rect x="177.1" y="571.7" width="4.2" height="4.2" fill="#000" stroke="none" stroke-width="0"/>
<rect x="186.18" y="555.1" width="4.2" height="4.2" fill="#000" stroke="none" stroke-width="0"/>
<rect x="195.26" y="568" width="4.2" height="4.2" fill="#000" stroke="none" stroke-width="0"/>
<rect x="204.34" y="571.7" width="4.2" height="4.2" fill="#000" stroke="none" stroke-width="0"/>
<rect x="222.5" y="571.7" width="4.2" height="4.2" fill="#000" stroke="none" stroke-width="0"/>
<rect x="231.58" y="564.5" width="4.2" height="4.2" fill="#000" stroke="none" stroke-width="0"/>
<polygon points="39.86,571.42 46.14,571.42 43,576.88" fill="#000" stroke="none" stroke-width="0"/>
<polygon points="49.9,560.34 54.26,560.34 52.08,564.14" fill="#000" stroke="none" stroke-width="0"/>
<polygon points="58.98,433.84 63.34,433.84 61.16,437.64" fill="#000" stroke="none" stroke-width="0"/>
<polygon points="68.06,480.34 72.42,480.34 70.24,484.14" fill="#000" stroke="none" stroke-width="0"/>
<polygon points="77.14,474.84 81.5,474.84 79.32,478.64" fill="#000" stroke="none" stroke-width="0"/>
<polygon points="86.22,516.34 90.58,516.34 88.4,520.14" fill="#000" stroke="none" stroke-width="0"/>
<polygon points="95.3,528.64 99.66,528.64 97.48,532.44" fill="#000" stroke="none" stroke-width="0"/>
<polygon points="104.38,536.24 108.74,536.24 106.56,540.04" fill="#000" stroke="none" stroke-width="0"/>
<polygon points="113.46,513.74 117.82,513.74 115.64,517.54" fill="#000" stroke="none" stroke-width="0"/>
<polygon points="122.54,522.44 126.9,522.44 124.72,526.25" fill="#000" stroke="none" stroke-width="0"/>
<polygon points="131.62,534.24 135.98,534.24 133.8,538.04" fill="#000" stroke="none" stroke-width="0"/>
<polygon points="40.76,575.5 45.24,575.5 43,571.6" fill="#000" stroke="none" stroke-width="0"/>
<polygon points="49.84,575.5 54.32,575.5 52.08,571.6" fill="#000" stroke="none" stroke-width="0"/>
<polygon points="58.92,496.8 63.4,496.8 61.16,492.9" fill="#000" stroke="none" stroke-width="0"/>
<polygon points="68,465.2 72.48,465.2 70.24,461.3" fill="#000" stroke="none" stroke-width="0"/>
<polygon points="77.08,466.8 81.56,466.8 79.32,462.9" fill="#000" stroke="none" stroke-width="0"/>
<polygon points="86.16,486.7 90.64,486.7 88.4,482.8" fill="#000" stroke="none" stroke-width="0"/>
<polygon points="95.24,513.6 99.72,513.6 97.48,509.7" fill="#000" stroke="none" stroke-width="0"/>
<polygon points="104.32,526.8 108.8,526.8 106.56,522.9" fill="#000" stroke="none" stroke-width="0"/>
<polygon points="113.4,522.7 117.88,522.7 115.64,518.8" fill="#000" stroke="none" stroke-width="0"/>
<polygon points="122.48,526.3 126.96,526.3 124.72,522.4" fill="#000" stroke="none" stroke-width="0"/>
<polygon points="131.56,529.1 136.04,529.1 133.8,525.2" fill="#000" stroke="none" stroke-width="0"/>
<polygon points="140.64,532.7 145.12,532.7 142.88,528.8" fill="#000" stroke="none" stroke-width="0"/>
<polygon points="149.72,536 154.2,536 151.96,532.1" fill="#000" stroke="none" stroke-width="0"/>
<polygon points="158.8,533.4 163.28,533.4 161.04,529.5" fill="#000" stroke="none" stroke-width="0"/>
<polygon points="43,571.8 45,573.8 43,575.8 41,573.8" fill="#000" stroke="none" stroke-width="0"/>
<polygon points="52.08,571.8 54.08,573.8 52.08,575.8 50.08,573.8" fill="#000" stroke="none" stroke-width="0"/>
<polygon points="70.24,447.8 72.24,449.8 70.24,451.8 68.24,449.8" fill="#000" stroke="none" stroke-width="0"/>
<polygon points="79.32,426.7 81.32,428.7 79.32,430.7 77.32,428.7" fill="#000" stroke="none" stroke-width="0"/>
<polygon points="88.4,476.7 90.4,478.7 88.4,480.7 86.4,478.7" fill="#000" stroke="none" stroke-width="0"/>
<polygon points="106.56,479.7 108.56,481.7 106.56,483.7 104.56,481.7" fill="#000" stroke="none" stroke-width="0"/>
<polygon points="115.64,474.3 117.64,476.3 115.64,478.3 113.64,476.3" fill="#000" stroke="none" stroke-width="0"/>
<polygon points="124.72,478.9 126.72,480.9 124.72,482.9 122.72,480.9" fill="#000" stroke="none" stroke-width="0"/>
<polygon points="133.8,466.8 135.8,468.8 133.8,470.8 131.8,468.8" fill="#000" stroke="none" stroke-width="0"/>
<polygon points="151.96,480.6 153.96,482.6 151.96,484.6 149.96,482.6" fill="#000" stroke="none" stroke-width="0"/>
<polygon points="161.04,489.5 163.04,491.5 161.04,493.5 159.04,491.5" fill="#000" stroke="none" stroke-width="0"/>
<polygon points="40.2,575.92 45.8,575.92 43,571.05" fill="#000" stroke="none" stroke-width="0"/>
<polygon points="49.28,575.92 54.88,575.92 52.08,571.05" fill="#000" stroke="none" stroke-width="0"/>
<polygon points="58.36,575.92 63.96,575.92 61.16,571.05" fill="#000" stroke="none" stroke-width="0"/>
<polygon points="67.44,575.92 73.04,575.92 70.24,571.05" fill="#000" stroke="none" stroke-width="0"/>
<polygon points="76.52,564.62 82.12,564.62 79.32,559.75" fill="none" stroke="#000" stroke-width="1.4"/>
<polygon points="94.68,475.32 100.28,475.32 97.48,470.45" fill="none" stroke="#000" stroke-width="1.4"/>
<polygon points="103.76,492.23 109.36,492.23 106.56,487.35" fill="none" stroke="#000" stroke-width="1.4"/>
<polygon points="112.84,505.52 118.44,505.52 115.64,500.65" fill="none" stroke="#000" stroke-width="1.4"/>
<polygon points="121.92,539.02 127.52,539.02 124.72,534.15" fill="none" stroke="#000" stroke-width="1.4"/>
<polygon points="131,542.12 136.6,542.12 133.8,537.25" fill="none" stroke="#000" stroke-width="1.4"/>
<polygon points="140.08,549.62 145.68,549.62 142.88,544.75" fill="none" stroke="#000" stroke-width="1.4"/>
<polygon points="149.16,553.92 154.76,553.92 151.96,549.05" fill="none" stroke="#000" stroke-width="1.4"/>
<polygon points="158.24,550.73 163.84,550.73 161.04,545.85" fill="none" stroke="#000" stroke-width="1.4"/>
<polygon points="167.32,555.02 172.92,555.02 170.12,550.15" fill="none" stroke="#000" stroke-width="1.4"/>
<polygon points="176.4,562.12 182,562.12 179.2,557.25" fill="none" stroke="#000" stroke-width="1.4"/>
<polygon points="185.48,569.52 191.08,569.52 188.28,564.65" fill="none" stroke="#000" stroke-width="1.4"/>
<polygon points="194.56,574.83 200.16,574.83 197.36,569.95" fill="none" stroke="#000" stroke-width="1.4"/>
<polygon points="39.86,571.42 46.14,571.42 43,576.88" fill="#000" stroke="none" stroke-width="0"/>
<polygon points="49.28,560.67 54.88,560.67 52.08,565.55" fill="none" stroke="#000" stroke-width="1.4"/>
<polygon points="58.02,571.42 64.3,571.42 61.16,576.88" fill="#000" stroke="none" stroke-width="0"/>
<polygon points="67.1,571.42 73.38,571.42 70.24,576.88" fill="#000" stroke="none" stroke-width="0"/>
<polygon points="76.18,571.42 82.46,571.42 79.32,576.88" fill="#000" stroke="none" stroke-width="0"/>
<polygon points="85.26,571.42 91.54,571.42 88.4,576.88" fill="#000" stroke="none" stroke-width="0"/>
<polygon points="94.34,571.42 100.62,571.42 97.48,576.88" fill="#000" stroke="none" stroke-width="0"/>
<polygon points="103.42,571.42 109.7,571.42 106.56,576.88" fill="#000" stroke="none" stroke-width="0"/>
<polygon points="112.5,571.42 118.78,571.42 115.64,576.88" fill="#000" stroke="none" stroke-width="0"/>
<polygon points="121.58,571.42 127.86,571.42 124.72,576.88" fill="#000" stroke="none" stroke-width="0"/>
<polygon points="131,533.77 136.6,533.77 133.8,538.65" fill="none" stroke="#000" stroke-width="1.4"/>
<polygon points="140.08,515.17 145.68,515.17 142.88,520.05" fill="none" stroke="#000" stroke-width="1.4"/>
<polygon points="149.16,548.88 154.76,548.88 151.96,553.75" fill="none" stroke="#000" stroke-width="1.4"/>
<polygon points="158.24,556.88 163.84,556.88 161.04,561.75" fill="none" stroke="#000" stroke-width="1.4"/>
<polygon points="167.32,562.58 172.92,562.58 170.12,567.45" fill="none" stroke="#000" stroke-width="1.4"/>
<polygon points="176.4,568.88 182,568.88 179.2,573.75" fill="none" stroke="#000" stroke-width="1.4"/>
<rect x="40.8" y="571.6" width="4.4" height="4.4" fill="#000" stroke="none" stroke-width="0"/>
<rect x="49.88" y="565.8" width="4.4" height="4.4" fill="none" stroke="#000" stroke-width="1.4"/>
<rect x="58.96" y="482.8" width="4.4" height="4.4" fill="none" stroke="#000" stroke-width="1.4"/>
<rect x="68.04" y="479.8" width="4.4" height="4.4" fill="none" stroke="#000" stroke-width="1.4"/>
<rect x="77.12" y="499.2" width="4.4" height="4.4" fill="none" stroke="#000" stroke-width="1.4"/>
<rect x="86.2" y="499.2" width="4.4" height="4.4" fill="none" stroke="#000" stroke-width="1.4"/>
<rect x="95.28" y="501.7" width="4.4" height="4.4" fill="none" stroke="#000" stroke-width="1.4"/>
<rect x="104.36" y="505.4" width="4.4" height="4.4" fill="none" stroke="#000" stroke-width="1.4"/>
<rect x="113.44" y="505.1" width="4.4" height="4.4" fill="none" stroke="#000" stroke-width="1.4"/>
<rect x="122.52" y="504.6" width="4.4" height="4.4" fill="none" stroke="#000" stroke-width="1.4"/>
<rect x="131.6" y="506.1" width="4.4" height="4.4" fill="none" stroke="#000" stroke-width="1.4"/>
<rect x="140.68" y="509.8" width="4.4" height="4.4" fill="none" stroke="#000" stroke-width="1.4"/>
<rect x="149.76" y="522.2" width="4.4" height="4.4" fill="none" stroke="#000" stroke-width="1.4"/>
<rect x="158.84" y="515.2" width="4.4" height="4.4" fill="none" stroke="#000" stroke-width="1.4"/>
<rect x="177" y="514.7" width="4.4" height="4.4" fill="none" stroke="#000" stroke-width="1.4"/>
<rect x="186.08" y="521.7" width="4.4" height="4.4" fill="none" stroke="#000" stroke-width="1.4"/>
<text x="293.9" y="420.5" font-size="8.6" text-anchor="middle" fill="#000">Controls</text>
<line x1="270" y1="430.8" x2="285.8" y2="430.8" stroke="#000" stroke-width="1"/>
<circle cx="277.8" cy="430.8" r="2.2" fill="#000" stroke="none" stroke-width="0"/>
<text x="289.4" y="433.7" font-size="8.6" text-anchor="start" fill="#000">36923</text>
<line x1="270" y1="448" x2="285.8" y2="448" stroke="#000" stroke-width="1"/>
<rect x="275.8" y="446" width="4" height="4" fill="#000" stroke="none" stroke-width="0"/>
<text x="289.4" y="451.6" font-size="8.6" text-anchor="start" fill="#000">37102</text>
<line x1="270" y1="465.2" x2="285.8" y2="465.2" stroke="#000" stroke-width="1"/>
<polygon points="275.34,463.33 280.26,463.33 277.8,467.62" fill="#000" stroke="none" stroke-width="0"/>
<text x="289.4" y="469.8" font-size="8.6" text-anchor="start" fill="#000">28142</text>
<line x1="270" y1="482.7" x2="285.8" y2="482.7" stroke="#000" stroke-width="1"/>
<polygon points="275.56,484.4 280.04,484.4 277.8,480.5" fill="#000" stroke="none" stroke-width="0"/>
<text x="289.4" y="488.2" font-size="8.6" text-anchor="start" fill="#000">30347</text>
<line x1="270" y1="499.9" x2="285.8" y2="499.9" stroke="#000" stroke-width="1"/>
<rect x="275.5" y="497.6" width="4.6" height="4.6" fill="#000" stroke="none" stroke-width="0"/>
<text x="289.4" y="506.1" font-size="8.6" text-anchor="start" fill="#000">30585</text>
<line x1="270" y1="517.3" x2="285.8" y2="517.3" stroke="#000" stroke-width="1"/>
<polygon points="277.8,515 280.1,517.3 277.8,519.6 275.5,517.3" fill="#000" stroke="none" stroke-width="0"/>
<text x="289.4" y="524.5" font-size="8.6" text-anchor="start" fill="#000">30719</text>
<line x1="270" y1="534.6" x2="285.8" y2="534.6" stroke="#000" stroke-width="1"/>
<polygon points="275,536.73 280.6,536.73 277.8,531.85" fill="none" stroke="#000" stroke-width="1.5"/>
<text x="289.4" y="542.4" font-size="8.6" text-anchor="start" fill="#000">28297</text>
<line x1="270" y1="554.9" x2="285.8" y2="554.9" stroke="#000" stroke-width="1"/>
<polygon points="275,552.77 280.6,552.77 277.8,557.65" fill="none" stroke="#000" stroke-width="1.5"/>
<text x="289.4" y="560.3" font-size="8.6" text-anchor="start" fill="#000">27486</text>
<line x1="270" y1="575.2" x2="285.8" y2="575.2" stroke="#000" stroke-width="1"/>
<polygon points="277.8,572.6 280.4,575.2 277.8,577.8 275.2,575.2" fill="#fff" stroke="#000" stroke-width="1.7249999999999999"/>
<text x="289.4" y="578.8" font-size="8.6" text-anchor="start" fill="#000">28345</text>
<line x1="270" y1="595.5" x2="285.8" y2="595.5" stroke="#000" stroke-width="1"/>
<rect x="275.6" y="593.3" width="4.4" height="4.4" fill="none" stroke="#000" stroke-width="1.5"/>
<text x="289.4" y="598.5" font-size="8.6" text-anchor="start" fill="#000">10-13</text>
<text x="0.8" y="643.8" font-size="16" text-anchor="start" fill="#000" font-weight="bold">d</text>
<line x1="43.4" y1="639.5" x2="43.4" y2="803.6" stroke="#000" stroke-width="1.6"/>
<line x1="42.6" y1="802.8" x2="281.2" y2="802.8" stroke="#000" stroke-width="1.8"/>
<line x1="38.9" y1="802.8" x2="43.4" y2="802.8" stroke="#000" stroke-width="1.4"/>
<text x="33.6" y="806.8" font-size="10" text-anchor="end" fill="#000">0</text>
<line x1="40.5" y1="786.66" x2="43.4" y2="786.66" stroke="#000" stroke-width="1.4"/>
<line x1="38.9" y1="770.53" x2="43.4" y2="770.53" stroke="#000" stroke-width="1.4"/>
<text x="33.6" y="774.53" font-size="10" text-anchor="end" fill="#000">20</text>
<line x1="40.5" y1="754.39" x2="43.4" y2="754.39" stroke="#000" stroke-width="1.4"/>
<line x1="38.9" y1="738.26" x2="43.4" y2="738.26" stroke="#000" stroke-width="1.4"/>
<text x="33.6" y="742.26" font-size="10" text-anchor="end" fill="#000">40</text>
<line x1="40.5" y1="722.12" x2="43.4" y2="722.12" stroke="#000" stroke-width="1.4"/>
<line x1="38.9" y1="705.99" x2="43.4" y2="705.99" stroke="#000" stroke-width="1.4"/>
<text x="33.6" y="709.99" font-size="10" text-anchor="end" fill="#000">60</text>
<line x1="40.5" y1="689.86" x2="43.4" y2="689.86" stroke="#000" stroke-width="1.4"/>
<line x1="38.9" y1="673.72" x2="43.4" y2="673.72" stroke="#000" stroke-width="1.4"/>
<text x="33.6" y="677.72" font-size="10" text-anchor="end" fill="#000">80</text>
<line x1="40.5" y1="657.58" x2="43.4" y2="657.58" stroke="#000" stroke-width="1.4"/>
<line x1="38.9" y1="641.45" x2="43.4" y2="641.45" stroke="#000" stroke-width="1.4"/>
<text x="33.6" y="645.45" font-size="10" text-anchor="end" fill="#000">100</text>
<line x1="43.3" y1="802.8" x2="43.3" y2="807.4" stroke="#000" stroke-width="1.4"/>
<text x="43.3" y="820.8" font-size="10" text-anchor="middle" fill="#000">0</text>
<line x1="55.16" y1="802.8" x2="55.16" y2="805.7" stroke="#000" stroke-width="1.4"/>
<line x1="67.02" y1="802.8" x2="67.02" y2="807.4" stroke="#000" stroke-width="1.4"/>
<text x="67.02" y="820.8" font-size="10" text-anchor="middle" fill="#000">2</text>
<line x1="78.88" y1="802.8" x2="78.88" y2="805.7" stroke="#000" stroke-width="1.4"/>
<line x1="90.74" y1="802.8" x2="90.74" y2="807.4" stroke="#000" stroke-width="1.4"/>
<text x="90.74" y="820.8" font-size="10" text-anchor="middle" fill="#000">4</text>
<line x1="102.6" y1="802.8" x2="102.6" y2="805.7" stroke="#000" stroke-width="1.4"/>
<line x1="114.46" y1="802.8" x2="114.46" y2="807.4" stroke="#000" stroke-width="1.4"/>
<text x="114.46" y="820.8" font-size="10" text-anchor="middle" fill="#000">6</text>
<line x1="126.32" y1="802.8" x2="126.32" y2="805.7" stroke="#000" stroke-width="1.4"/>
<line x1="138.18" y1="802.8" x2="138.18" y2="807.4" stroke="#000" stroke-width="1.4"/>
<text x="138.18" y="820.8" font-size="10" text-anchor="middle" fill="#000">8</text>
<line x1="150.04" y1="802.8" x2="150.04" y2="805.7" stroke="#000" stroke-width="1.4"/>
<line x1="161.9" y1="802.8" x2="161.9" y2="807.4" stroke="#000" stroke-width="1.4"/>
<text x="161.9" y="820.8" font-size="10" text-anchor="middle" fill="#000">10</text>
<line x1="173.76" y1="802.8" x2="173.76" y2="805.7" stroke="#000" stroke-width="1.4"/>
<line x1="185.62" y1="802.8" x2="185.62" y2="807.4" stroke="#000" stroke-width="1.4"/>
<text x="185.62" y="820.8" font-size="10" text-anchor="middle" fill="#000">12</text>
<line x1="197.48" y1="802.8" x2="197.48" y2="805.7" stroke="#000" stroke-width="1.4"/>
<line x1="209.34" y1="802.8" x2="209.34" y2="807.4" stroke="#000" stroke-width="1.4"/>
<text x="209.34" y="820.8" font-size="10" text-anchor="middle" fill="#000">14</text>
<line x1="221.2" y1="802.8" x2="221.2" y2="805.7" stroke="#000" stroke-width="1.4"/>
<line x1="233.06" y1="802.8" x2="233.06" y2="807.4" stroke="#000" stroke-width="1.4"/>
<text x="233.06" y="820.8" font-size="10" text-anchor="middle" fill="#000">16</text>
<line x1="244.92" y1="802.8" x2="244.92" y2="805.7" stroke="#000" stroke-width="1.4"/>
<line x1="256.78" y1="802.8" x2="256.78" y2="807.4" stroke="#000" stroke-width="1.4"/>
<text x="256.78" y="820.8" font-size="10" text-anchor="middle" fill="#000">18</text>
<line x1="268.64" y1="802.8" x2="268.64" y2="805.7" stroke="#000" stroke-width="1.4"/>
<line x1="280.5" y1="802.8" x2="280.5" y2="807.4" stroke="#000" stroke-width="1.4"/>
<text x="280.5" y="820.8" font-size="10" text-anchor="middle" fill="#000">20</text>
<text x="162" y="834.3" font-size="10.4" text-anchor="middle" fill="#000">Number of challenges</text>
<text transform="translate(8.7,721.1) rotate(-90)" font-size="10.2" text-anchor="middle" fill="#000">Percent Uninfected</text>
<polyline points="43.3,641.45 55.16,641.45 55.16,641.45 55.16,641.45 55.16,689.86 67.02,689.86 67.02,689.86 67.02,689.86 67.02,722.12 78.88,722.12 78.88,722.12 78.88,722.12 78.88,738.26 90.74,738.26 90.74,738.26 90.74,738.26 90.74,770.53 161.9,770.53 161.9,770.53 161.9,770.53 161.9,786.66 185.62,786.66 185.62,786.66 185.62,786.66 185.62,802.8" fill="none" stroke="#000" stroke-width="3.35" stroke-linejoin="miter"/>
<polyline points="43.3,641.45 102.6,641.45 102.6,641.45 102.6,641.45 102.6,668.35 197.48,668.35 197.48,668.35 197.48,668.35 197.48,695.23 209.34,695.23 209.34,695.23 209.34,695.23 209.34,722.12 244.92,722.12 244.92,722.12 244.92,722.12 244.92,749.02 256.78,749.02 256.78,749.02 256.78,749.02 256.78,775.9 268.64,775.9 268.64,775.9 268.64,775.9 268.64,802.8" fill="none" stroke="#ff0000" stroke-width="3.35" stroke-linejoin="miter"/>
<line x1="264.3" y1="642" x2="280.7" y2="642" stroke="#ff0000" stroke-width="3.4"/>
<text x="285.2" y="645" font-size="8.5" text-anchor="start" fill="#ff0000">10-1074</text>
<line x1="264.3" y1="661" x2="280.7" y2="661" stroke="#000" stroke-width="3.4"/>
<text x="285.2" y="664.1" font-size="8.5" text-anchor="start" fill="#000">Controls</text>
<text x="272" y="708" font-size="10.1" fill="#2020ff"><tspan font-style="italic">P</tspan> = 0.0007</text>
<text x="361.6" y="195.9" font-size="16" text-anchor="start" fill="#000" font-weight="bold">e</text>
<line x1="405.9" y1="195.9" x2="405.9" y2="342.8" stroke="#000" stroke-width="1.8"/>
<line x1="405" y1="341.9" x2="616.9" y2="341.9" stroke="#000" stroke-width="1.8"/>
<line x1="403.3" y1="338.77" x2="405.9" y2="338.77" stroke="#000" stroke-width="1.1"/>
<line x1="403.3" y1="335.82" x2="405.9" y2="335.82" stroke="#000" stroke-width="1.1"/>
<line x1="403.3" y1="333.27" x2="405.9" y2="333.27" stroke="#000" stroke-width="1.1"/>
<line x1="403.3" y1="331.01" x2="405.9" y2="331.01" stroke="#000" stroke-width="1.1"/>
<line x1="403.3" y1="315.75" x2="405.9" y2="315.75" stroke="#000" stroke-width="1.1"/>
<line x1="403.3" y1="307.99" x2="405.9" y2="307.99" stroke="#000" stroke-width="1.1"/>
<line x1="403.3" y1="302.49" x2="405.9" y2="302.49" stroke="#000" stroke-width="1.1"/>
<line x1="403.3" y1="298.22" x2="405.9" y2="298.22" stroke="#000" stroke-width="1.1"/>
<line x1="403.3" y1="294.74" x2="405.9" y2="294.74" stroke="#000" stroke-width="1.1"/>
<line x1="403.3" y1="291.79" x2="405.9" y2="291.79" stroke="#000" stroke-width="1.1"/>
<line x1="403.3" y1="289.24" x2="405.9" y2="289.24" stroke="#000" stroke-width="1.1"/>
<line x1="403.3" y1="286.98" x2="405.9" y2="286.98" stroke="#000" stroke-width="1.1"/>
<line x1="403.3" y1="271.72" x2="405.9" y2="271.72" stroke="#000" stroke-width="1.1"/>
<line x1="403.3" y1="263.96" x2="405.9" y2="263.96" stroke="#000" stroke-width="1.1"/>
<line x1="403.3" y1="258.46" x2="405.9" y2="258.46" stroke="#000" stroke-width="1.1"/>
<line x1="403.3" y1="254.19" x2="405.9" y2="254.19" stroke="#000" stroke-width="1.1"/>
<line x1="403.3" y1="250.71" x2="405.9" y2="250.71" stroke="#000" stroke-width="1.1"/>
<line x1="403.3" y1="247.76" x2="405.9" y2="247.76" stroke="#000" stroke-width="1.1"/>
<line x1="403.3" y1="245.21" x2="405.9" y2="245.21" stroke="#000" stroke-width="1.1"/>
<line x1="403.3" y1="242.95" x2="405.9" y2="242.95" stroke="#000" stroke-width="1.1"/>
<line x1="403.3" y1="227.69" x2="405.9" y2="227.69" stroke="#000" stroke-width="1.1"/>
<line x1="403.3" y1="219.93" x2="405.9" y2="219.93" stroke="#000" stroke-width="1.1"/>
<line x1="403.3" y1="214.43" x2="405.9" y2="214.43" stroke="#000" stroke-width="1.1"/>
<line x1="403.3" y1="210.16" x2="405.9" y2="210.16" stroke="#000" stroke-width="1.1"/>
<line x1="403.3" y1="206.68" x2="405.9" y2="206.68" stroke="#000" stroke-width="1.1"/>
<line x1="403.3" y1="203.73" x2="405.9" y2="203.73" stroke="#000" stroke-width="1.1"/>
<line x1="403.3" y1="201.18" x2="405.9" y2="201.18" stroke="#000" stroke-width="1.1"/>
<line x1="403.3" y1="198.92" x2="405.9" y2="198.92" stroke="#000" stroke-width="1.1"/>
<line x1="401.6" y1="196.91" x2="405.9" y2="196.91" stroke="#000" stroke-width="1.4"/>
<text x="397.1" y="200.51" font-size="10" text-anchor="end" fill="#000">100</text>
<line x1="401.6" y1="240.94" x2="405.9" y2="240.94" stroke="#000" stroke-width="1.4"/>
<text x="397.1" y="244.54" font-size="10" text-anchor="end" fill="#000">10</text>
<line x1="401.6" y1="284.97" x2="405.9" y2="284.97" stroke="#000" stroke-width="1.4"/>
<text x="397.1" y="288.57" font-size="10" text-anchor="end" fill="#000">1</text>
<line x1="401.6" y1="329" x2="405.9" y2="329" stroke="#000" stroke-width="1.4"/>
<text x="397.1" y="332.6" font-size="10" text-anchor="end" fill="#000">0.1</text>
<line x1="406.4" y1="341.9" x2="406.4" y2="346.3" stroke="#000" stroke-width="1.4"/>
<line x1="416.4" y1="341.9" x2="416.4" y2="346.3" stroke="#000" stroke-width="1.4"/>
<text x="416.4" y="358.7" font-size="10" text-anchor="middle" fill="#000">0</text>
<line x1="426.4" y1="341.9" x2="426.4" y2="344.5" stroke="#000" stroke-width="1.4"/>
<line x1="436.4" y1="341.9" x2="436.4" y2="346.3" stroke="#000" stroke-width="1.4"/>
<text x="436.4" y="358.7" font-size="10" text-anchor="middle" fill="#000">2</text>
<line x1="446.4" y1="341.9" x2="446.4" y2="344.5" stroke="#000" stroke-width="1.4"/>
<line x1="456.4" y1="341.9" x2="456.4" y2="346.3" stroke="#000" stroke-width="1.4"/>
<text x="456.4" y="358.7" font-size="10" text-anchor="middle" fill="#000">4</text>
<line x1="466.4" y1="341.9" x2="466.4" y2="344.5" stroke="#000" stroke-width="1.4"/>
<line x1="476.4" y1="341.9" x2="476.4" y2="346.3" stroke="#000" stroke-width="1.4"/>
<text x="476.4" y="358.7" font-size="10" text-anchor="middle" fill="#000">6</text>
<line x1="486.4" y1="341.9" x2="486.4" y2="344.5" stroke="#000" stroke-width="1.4"/>
<line x1="496.4" y1="341.9" x2="496.4" y2="346.3" stroke="#000" stroke-width="1.4"/>
<text x="496.4" y="358.7" font-size="10" text-anchor="middle" fill="#000">8</text>
<line x1="506.4" y1="341.9" x2="506.4" y2="344.5" stroke="#000" stroke-width="1.4"/>
<line x1="516.4" y1="341.9" x2="516.4" y2="346.3" stroke="#000" stroke-width="1.4"/>
<text x="516.4" y="358.7" font-size="10" text-anchor="middle" fill="#000">10</text>
<line x1="526.4" y1="341.9" x2="526.4" y2="344.5" stroke="#000" stroke-width="1.4"/>
<line x1="536.4" y1="341.9" x2="536.4" y2="346.3" stroke="#000" stroke-width="1.4"/>
<text x="536.4" y="358.7" font-size="10" text-anchor="middle" fill="#000">12</text>
<line x1="546.4" y1="341.9" x2="546.4" y2="344.5" stroke="#000" stroke-width="1.4"/>
<line x1="556.4" y1="341.9" x2="556.4" y2="346.3" stroke="#000" stroke-width="1.4"/>
<text x="556.4" y="358.7" font-size="10" text-anchor="middle" fill="#000">14</text>
<line x1="566.4" y1="341.9" x2="566.4" y2="344.5" stroke="#000" stroke-width="1.4"/>
<line x1="576.4" y1="341.9" x2="576.4" y2="346.3" stroke="#000" stroke-width="1.4"/>
<text x="576.4" y="358.7" font-size="10" text-anchor="middle" fill="#000">16</text>
<line x1="586.4" y1="341.9" x2="586.4" y2="344.5" stroke="#000" stroke-width="1.4"/>
<line x1="596.4" y1="341.9" x2="596.4" y2="346.3" stroke="#000" stroke-width="1.4"/>
<text x="596.4" y="358.7" font-size="10" text-anchor="middle" fill="#000">18</text>
<line x1="606.4" y1="341.9" x2="606.4" y2="344.5" stroke="#000" stroke-width="1.4"/>
<line x1="616.4" y1="341.9" x2="616.4" y2="346.3" stroke="#000" stroke-width="1.4"/>
<text x="616.4" y="358.7" font-size="10" text-anchor="middle" fill="#000">20</text>
<text x="511.3" y="373.8" font-size="10.4" text-anchor="middle" fill="#000">Weeks</text>
<polygon points="402.4,358.9 406.5,348.7 410.6,358.9" fill="#000" stroke="none" stroke-width="0"/>
<line x1="406.5" y1="357" x2="406.5" y2="370.5" stroke="#000" stroke-width="2.1"/>
<text x="406.3" y="381.9" font-size="10.4" text-anchor="middle" fill="#000">bNAb</text>
<text transform="translate(374.1,269.2) rotate(-90)" font-size="10.45" text-anchor="middle">10-1074 (µg ml<tspan font-size="6.9" dy="-4.4">−1</tspan><tspan dy="4.4">)</tspan></text>
<line x1="408.5" y1="329" x2="605.8" y2="329" stroke="#000" stroke-width="1.3" stroke-dasharray="1.3,2.6"/>
<polygon points="406.4,329 416.4,206.9 416.4,223.9" fill="#ff0000" stroke="#ff0000" stroke-width="0.9" stroke-linejoin="round"/>
<polyline points="416.4,213.9 436.4,224.4 456.4,237 476.4,250.2 496.4,260.7 516.4,261.8 536.4,281.5 556.4,289 576.4,299 586.4,308 596.4,302.5" fill="none" stroke="#ff0000" stroke-width="1.0" stroke-linejoin="round"/>
<polyline points="416.4,223.9 436.4,233.9 456.4,249.3 476.4,261.2 496.4,270.5 516.4,284.8 536.4,291.5 546.4,294.3 556.4,291 576.4,300" fill="none" stroke="#ff0000" stroke-width="1.0" stroke-linejoin="round"/>
<polyline points="416.4,222.2 436.4,230 456.4,239.7 476.4,257 496.4,265 516.4,274.2 536.4,288.4 556.4,302.5 576.4,302.5 596.4,315.3 606.4,315.3" fill="none" stroke="#ff0000" stroke-width="1.0" stroke-linejoin="round"/>
<polyline points="416.4,217.8 436.4,228.3 456.4,329 466.4,329" fill="none" stroke="#ff0000" stroke-width="1.0" stroke-linejoin="round"/>
<polyline points="416.4,215.7 436.4,225.7 456.4,235.6 476.4,238.8 496.4,260.5 516.4,261.8 536.4,269.3 556.4,283 576.4,293.9 586.4,294.3" fill="none" stroke="#ff0000" stroke-width="1.0" stroke-linejoin="round"/>
<polyline points="416.4,206.9 436.4,225 456.4,241.4 476.4,257.2 496.4,262 516.4,274.7 536.4,290 546.4,292.4 556.4,289 576.4,297" fill="none" stroke="#ff0000" stroke-width="1.0" stroke-linejoin="round"/>
<circle cx="416.4" cy="213.9" r="2.4" fill="#ff0000" stroke="none" stroke-width="0"/>
<circle cx="436.4" cy="224.4" r="2.4" fill="#ff0000" stroke="none" stroke-width="0"/>
<circle cx="456.4" cy="237" r="2.4" fill="#ff0000" stroke="none" stroke-width="0"/>
<circle cx="476.4" cy="250.2" r="2.4" fill="#ff0000" stroke="none" stroke-width="0"/>
<circle cx="496.4" cy="260.7" r="2.4" fill="#ff0000" stroke="none" stroke-width="0"/>
<circle cx="516.4" cy="261.8" r="2.4" fill="#ff0000" stroke="none" stroke-width="0"/>
<circle cx="536.4" cy="281.5" r="2.4" fill="#ff0000" stroke="none" stroke-width="0"/>
<circle cx="556.4" cy="289" r="2.4" fill="#ff0000" stroke="none" stroke-width="0"/>
<circle cx="576.4" cy="299" r="2.4" fill="#ff0000" stroke="none" stroke-width="0"/>
<circle cx="586.4" cy="308" r="2.4" fill="#ff0000" stroke="none" stroke-width="0"/>
<circle cx="596.4" cy="302.5" r="2.4" fill="#ff0000" stroke="none" stroke-width="0"/>
<rect x="414" y="221.5" width="4.8" height="4.8" fill="#ff0000" stroke="none" stroke-width="0"/>
<rect x="434" y="231.5" width="4.8" height="4.8" fill="#ff0000" stroke="none" stroke-width="0"/>
<rect x="454" y="246.9" width="4.8" height="4.8" fill="#ff0000" stroke="none" stroke-width="0"/>
<rect x="474" y="258.8" width="4.8" height="4.8" fill="#ff0000" stroke="none" stroke-width="0"/>
<rect x="494" y="268.1" width="4.8" height="4.8" fill="#ff0000" stroke="none" stroke-width="0"/>
<rect x="514" y="282.4" width="4.8" height="4.8" fill="#ff0000" stroke="none" stroke-width="0"/>
<rect x="534" y="289.1" width="4.8" height="4.8" fill="#ff0000" stroke="none" stroke-width="0"/>
<rect x="544" y="291.9" width="4.8" height="4.8" fill="#ff0000" stroke="none" stroke-width="0"/>
<rect x="554" y="288.6" width="4.8" height="4.8" fill="#ff0000" stroke="none" stroke-width="0"/>
<rect x="574" y="297.6" width="4.8" height="4.8" fill="#ff0000" stroke="none" stroke-width="0"/>
<polygon points="413.71,220.16 419.09,220.16 416.4,224.84" fill="#ff0000" stroke="none" stroke-width="0"/>
<polygon points="433.71,227.96 439.09,227.96 436.4,232.64" fill="#ff0000" stroke="none" stroke-width="0"/>
<polygon points="453.71,237.66 459.09,237.66 456.4,242.34" fill="#ff0000" stroke="none" stroke-width="0"/>
<polygon points="473.71,254.96 479.09,254.96 476.4,259.64" fill="#ff0000" stroke="none" stroke-width="0"/>
<polygon points="493.71,262.96 499.09,262.96 496.4,267.64" fill="#ff0000" stroke="none" stroke-width="0"/>
<polygon points="513.71,272.16 519.09,272.16 516.4,276.84" fill="#ff0000" stroke="none" stroke-width="0"/>
<polygon points="533.71,286.36 539.09,286.36 536.4,291.04" fill="#ff0000" stroke="none" stroke-width="0"/>
<polygon points="553.71,300.46 559.09,300.46 556.4,305.14" fill="#ff0000" stroke="none" stroke-width="0"/>
<polygon points="573.71,300.46 579.09,300.46 576.4,305.14" fill="#ff0000" stroke="none" stroke-width="0"/>
<polygon points="593.71,313.26 599.09,313.26 596.4,317.94" fill="#ff0000" stroke="none" stroke-width="0"/>
<polygon points="603.71,313.26 609.09,313.26 606.4,317.94" fill="#ff0000" stroke="none" stroke-width="0"/>
<polygon points="413.71,219.84 419.09,219.84 416.4,215.16" fill="#ff0000" stroke="none" stroke-width="0"/>
<polygon points="433.71,230.34 439.09,230.34 436.4,225.66" fill="#ff0000" stroke="none" stroke-width="0"/>
<polygon points="453.71,331.04 459.09,331.04 456.4,326.36" fill="#ff0000" stroke="none" stroke-width="0"/>
<polygon points="463.71,331.04 469.09,331.04 466.4,326.36" fill="#ff0000" stroke="none" stroke-width="0"/>
<polygon points="416.4,212.46 417.2,214.6 419.48,214.7 417.69,216.12 418.3,218.32 416.4,217.06 414.5,218.32 415.11,216.12 413.32,214.7 415.6,214.6" fill="#ff0000" stroke="none" stroke-width="0"/>
<polygon points="436.4,222.46 437.2,224.6 439.48,224.7 437.69,226.12 438.3,228.32 436.4,227.06 434.5,228.32 435.11,226.12 433.32,224.7 435.6,224.6" fill="#ff0000" stroke="none" stroke-width="0"/>
<polygon points="456.4,232.36 457.2,234.5 459.48,234.6 457.69,236.02 458.3,238.22 456.4,236.96 454.5,238.22 455.11,236.02 453.32,234.6 455.6,234.5" fill="#ff0000" stroke="none" stroke-width="0"/>
<polygon points="476.4,235.56 477.2,237.7 479.48,237.8 477.69,239.22 478.3,241.42 476.4,240.16 474.5,241.42 475.11,239.22 473.32,237.8 475.6,237.7" fill="#ff0000" stroke="none" stroke-width="0"/>
<polygon points="496.4,257.26 497.2,259.4 499.48,259.5 497.69,260.92 498.3,263.12 496.4,261.86 494.5,263.12 495.11,260.92 493.32,259.5 495.6,259.4" fill="#ff0000" stroke="none" stroke-width="0"/>
<polygon points="516.4,258.56 517.2,260.7 519.48,260.8 517.69,262.22 518.3,264.42 516.4,263.16 514.5,264.42 515.11,262.22 513.32,260.8 515.6,260.7" fill="#ff0000" stroke="none" stroke-width="0"/>
<polygon points="536.4,266.06 537.2,268.2 539.48,268.3 537.69,269.72 538.3,271.92 536.4,270.66 534.5,271.92 535.11,269.72 533.32,268.3 535.6,268.2" fill="#ff0000" stroke="none" stroke-width="0"/>
<polygon points="556.4,279.76 557.2,281.9 559.48,282 557.69,283.42 558.3,285.62 556.4,284.36 554.5,285.62 555.11,283.42 553.32,282 555.6,281.9" fill="#ff0000" stroke="none" stroke-width="0"/>
<polygon points="576.4,290.66 577.2,292.8 579.48,292.9 577.69,294.32 578.3,296.52 576.4,295.26 574.5,296.52 575.11,294.32 573.32,292.9 575.6,292.8" fill="#ff0000" stroke="none" stroke-width="0"/>
<polygon points="586.4,291.06 587.2,293.2 589.48,293.3 587.69,294.72 588.3,296.92 586.4,295.66 584.5,296.92 585.11,294.72 583.32,293.3 585.6,293.2" fill="#ff0000" stroke="none" stroke-width="0"/>
<polygon points="416.4,204.5 418.8,206.9 416.4,209.3 414,206.9" fill="#ff0000" stroke="none" stroke-width="0"/>
<polygon points="436.4,222.6 438.8,225 436.4,227.4 434,225" fill="#ff0000" stroke="none" stroke-width="0"/>
<polygon points="456.4,239 458.8,241.4 456.4,243.8 454,241.4" fill="#ff0000" stroke="none" stroke-width="0"/>
<polygon points="476.4,254.8 478.8,257.2 476.4,259.6 474,257.2" fill="#ff0000" stroke="none" stroke-width="0"/>
<polygon points="496.4,259.6 498.8,262 496.4,264.4 494,262" fill="#ff0000" stroke="none" stroke-width="0"/>
<polygon points="516.4,272.3 518.8,274.7 516.4,277.1 514,274.7" fill="#ff0000" stroke="none" stroke-width="0"/>
<polygon points="536.4,287.6 538.8,290 536.4,292.4 534,290" fill="#ff0000" stroke="none" stroke-width="0"/>
<polygon points="546.4,290 548.8,292.4 546.4,294.8 544,292.4" fill="#ff0000" stroke="none" stroke-width="0"/>
<polygon points="556.4,286.6 558.8,289 556.4,291.4 554,289" fill="#ff0000" stroke="none" stroke-width="0"/>
<polygon points="576.4,294.6 578.8,297 576.4,299.4 574,297" fill="#ff0000" stroke="none" stroke-width="0"/>
<rect x="404" y="326.6" width="4.8" height="4.8" fill="#ff0000" stroke="none" stroke-width="0"/>
<text x="651.3" y="212.8" font-size="8.8" text-anchor="middle" fill="#ff0000">10-1074</text>
<line x1="625.3" y1="228.7" x2="640.3" y2="228.7" stroke="#ff0000" stroke-width="1"/>
<circle cx="633" cy="228.7" r="2.1" fill="#ff0000" stroke="none" stroke-width="0"/>
<text x="643.6" y="231.7" font-size="8.7" text-anchor="start" fill="#000">10-24</text>
<line x1="625.3" y1="245.1" x2="640.3" y2="245.1" stroke="#ff0000" stroke-width="1"/>
<rect x="630.9" y="243" width="4.2" height="4.2" fill="#ff0000" stroke="none" stroke-width="0"/>
<text x="643.6" y="248.1" font-size="8.7" text-anchor="start" fill="#000">10-27</text>
<line x1="625.3" y1="262.1" x2="640.3" y2="262.1" stroke="#ff0000" stroke-width="1"/>
<polygon points="630.65,260.31 635.35,260.31 633,264.41" fill="#ff0000" stroke="none" stroke-width="0"/>
<text x="643.6" y="265.1" font-size="8.7" text-anchor="start" fill="#000">10-90</text>
<line x1="625.3" y1="279" x2="640.3" y2="279" stroke="#ff0000" stroke-width="1"/>
<polygon points="630.65,280.79 635.35,280.79 633,276.69" fill="#ff0000" stroke="none" stroke-width="0"/>
<text x="643.6" y="282" font-size="8.7" text-anchor="start" fill="#000">10-139</text>
<line x1="625.3" y1="295.5" x2="640.3" y2="295.5" stroke="#ff0000" stroke-width="1"/>
<polygon points="633,292.67 633.7,294.54 635.7,294.62 634.13,295.87 634.67,297.79 633,296.69 631.33,297.79 631.87,295.87 630.3,294.62 632.3,294.54" fill="#ff0000" stroke="none" stroke-width="0"/>
<text x="643.6" y="298.5" font-size="8.7" text-anchor="start" fill="#000">10-233</text>
<line x1="625.3" y1="312.3" x2="640.3" y2="312.3" stroke="#ff0000" stroke-width="1"/>
<polygon points="633,310.2 635.1,312.3 633,314.4 630.9,312.3" fill="#ff0000" stroke="none" stroke-width="0"/>
<text x="643.6" y="315.3" font-size="8.7" text-anchor="start" fill="#000">11-141</text>
<line x1="625.5" y1="329" x2="639" y2="329" stroke="#000" stroke-width="1.3" stroke-dasharray="1.3,2.6"/>
<text x="643.8" y="332.1" font-size="8.7" text-anchor="start" fill="#000">LOD</text>
<text x="362.3" y="415.1" font-size="16" text-anchor="start" fill="#000" font-weight="bold">f</text>
<line x1="410.3" y1="411.6" x2="410.3" y2="556.6" stroke="#000" stroke-width="1.8"/>
<line x1="409.4" y1="555.7" x2="523" y2="555.7" stroke="#000" stroke-width="1.8"/>
<line x1="405.7" y1="555.8" x2="410.3" y2="555.8" stroke="#000" stroke-width="1.4"/>
<text x="401.4" y="559.4" font-size="10" text-anchor="end" fill="#000">0.0</text>
<line x1="407.4" y1="537.85" x2="410.3" y2="537.85" stroke="#000" stroke-width="1.4"/>
<line x1="405.7" y1="519.9" x2="410.3" y2="519.9" stroke="#000" stroke-width="1.4"/>
<text x="401.4" y="523.5" font-size="10" text-anchor="end" fill="#000">0.2</text>
<line x1="407.4" y1="501.95" x2="410.3" y2="501.95" stroke="#000" stroke-width="1.4"/>
<line x1="405.7" y1="484" x2="410.3" y2="484" stroke="#000" stroke-width="1.4"/>
<text x="401.4" y="487.6" font-size="10" text-anchor="end" fill="#000">0.4</text>
<line x1="407.4" y1="466.05" x2="410.3" y2="466.05" stroke="#000" stroke-width="1.4"/>
<line x1="405.7" y1="448.1" x2="410.3" y2="448.1" stroke="#000" stroke-width="1.4"/>
<text x="401.4" y="451.7" font-size="10" text-anchor="end" fill="#000">0.6</text>
<line x1="407.4" y1="430.15" x2="410.3" y2="430.15" stroke="#000" stroke-width="1.4"/>
<line x1="405.7" y1="412.2" x2="410.3" y2="412.2" stroke="#000" stroke-width="1.4"/>
<text x="401.4" y="415.8" font-size="10" text-anchor="end" fill="#000">0.8</text>
<text transform="translate(374.0,484.4) rotate(-90)" font-size="10.45" text-anchor="middle">10-1074 (µg ml<tspan font-size="6.9" dy="-4.4">−1</tspan><tspan dy="4.4">)</tspan></text>
<line x1="413.7" y1="538.2" x2="519.6" y2="538.2" stroke="#000" stroke-width="1.3" stroke-dasharray="1.3,2.6"/>
<line x1="437.2" y1="465.6" x2="494.4" y2="465.6" stroke="#ff0000" stroke-width="1.6"/>
<rect x="451.8" y="427.5" width="5.8" height="5.8" fill="#ff0000" stroke="none" stroke-width="0"/>
<polygon points="476.9,426.9 480.4,430.4 476.9,433.9 473.4,430.4" fill="#ff0000" stroke="none" stroke-width="0"/>
<polygon points="466.2,444.62 467.13,447.12 469.79,447.23 467.71,448.89 468.42,451.46 466.2,449.99 463.98,451.46 464.69,448.89 462.61,447.23 465.27,447.12" fill="#ff0000" stroke="none" stroke-width="0"/>
<circle cx="466.1" cy="484" r="2.9" fill="#ff0000" stroke="none" stroke-width="0"/>
<polygon points="462.64,517.15 469.36,517.15 466,523" fill="#ff0000" stroke="none" stroke-width="0"/>
<polygon points="462.64,540.35 469.36,540.35 466,534.5" fill="#ff0000" stroke="none" stroke-width="0"/>
<text x="466.2" y="570.4" font-size="10" text-anchor="middle" fill="#000">SHIV</text>
<text x="466" y="582.6" font-size="10.2" text-anchor="middle" fill="#000">Breakthrough</text>
<text x="563.2" y="421.7" font-size="8.6" text-anchor="middle" fill="#ff0000">10-1074</text>
<circle cx="549.1" cy="437.8" r="3" fill="#ff0000" stroke="none" stroke-width="0"/>
<text x="556" y="440.8" font-size="8.5" text-anchor="start" fill="#000">10-24</text>
<rect x="546.1" y="454.2" width="6" height="6" fill="#ff0000" stroke="none" stroke-width="0"/>
<text x="556" y="460.2" font-size="8.5" text-anchor="start" fill="#000">10-27</text>
<polygon points="545.74,473.85 552.46,473.85 549.1,479.7" fill="#ff0000" stroke="none" stroke-width="0"/>
<text x="556" y="479.4" font-size="8.5" text-anchor="start" fill="#000">10-90</text>
<polygon points="545.74,498.35 552.46,498.35 549.1,492.5" fill="#ff0000" stroke="none" stroke-width="0"/>
<text x="556" y="498.8" font-size="8.5" text-anchor="start" fill="#000">10-139</text>
<polygon points="549.1,510.85 550.1,513.52 552.95,513.65 550.72,515.43 551.48,518.18 549.1,516.6 546.72,518.18 547.48,515.43 545.25,513.65 548.1,513.52" fill="#ff0000" stroke="none" stroke-width="0"/>
<text x="556" y="517.9" font-size="8.5" text-anchor="start" fill="#000">10-233</text>
<polygon points="549.1,531.8 552.1,534.8 549.1,537.8 546.1,534.8" fill="#ff0000" stroke="none" stroke-width="0"/>
<text x="556" y="537.8" font-size="8.5" text-anchor="start" fill="#000">11-141</text>
</svg></body></html>
